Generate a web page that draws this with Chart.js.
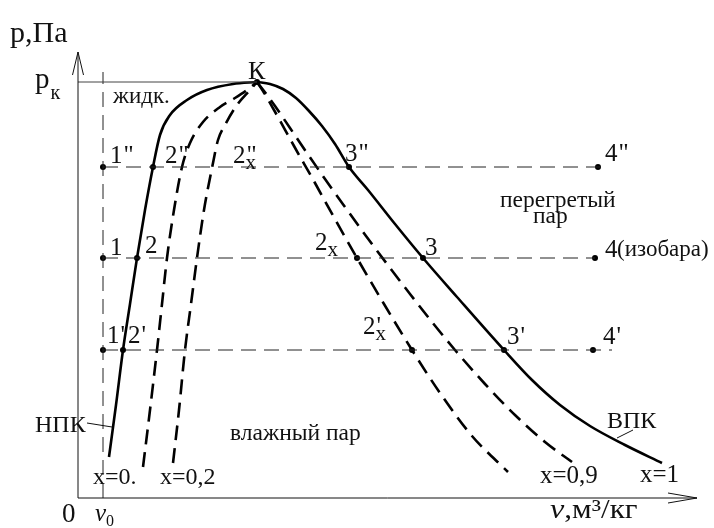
<!DOCTYPE html>
<html>
<head>
<meta charset="utf-8">
<script src="https://cdn.jsdelivr.net/npm/chart.js@4.4.1/dist/chart.umd.min.js"></script>
<style>
  html, body { margin: 0; padding: 0; background: #fff; }
  #wrap { width: 714px; height: 528px; }
</style>
</head>
<body>
<div id="wrap"><canvas id="pv" width="714" height="528"></canvas></div>
<script>
// Критическая точка, v0 и изобары
const vK = 1.79;
const pK = 4.16;
const v0 = 0.25;
const isobarP = [3.31, 2.40, 1.48];
const isobarEndV = [5.30, 5.17, 5.34];

// Нижняя пограничная кривая (x = 0)
const liquidV = [0.31, 0.38, 0.45, 0.52, 0.59, 0.67, 0.75, 0.82, 0.92, 1.09, 1.29, 1.55, 1.79];
const liquidP = [0.41, 0.93, 1.48, 1.94, 2.40, 2.88, 3.31, 3.63, 3.83, 3.98, 4.08, 4.14, 4.16];

// Линии постоянной степени сухости слева от К
const dry01V = [0.65, 0.72, 0.79, 0.84, 0.89, 0.96, 1.04, 1.12, 1.25, 1.42, 1.57, 1.69, 1.79];
const dry01P = [0.31, 0.88, 1.48, 1.94, 2.40, 2.88, 3.31, 3.55, 3.76, 3.91, 4.00, 4.08, 4.16];
const dry02V = [0.95, 1.01, 1.07, 1.13, 1.19, 1.26, 1.34, 1.40, 1.47, 1.59, 1.72, 1.79];
const dry02P = [0.35, 0.88, 1.48, 1.94, 2.40, 2.88, 3.30, 3.58, 3.73, 3.93, 4.08, 4.16];

// Линии постоянной степени сухости справа от К
const dry08V = [1.79, 1.85, 1.96, 2.16, 2.37, 2.58, 2.79, 3.06, 3.34, 3.62, 3.94, 4.30];
const dry08P = [4.16, 4.07, 3.88, 3.52, 3.15, 2.77, 2.40, 1.94, 1.48, 1.05, 0.62, 0.26];
const dry09V = [1.79, 1.86, 1.97, 2.12, 2.29, 2.47, 2.67, 2.88, 3.09, 3.32, 3.54, 3.77, 4.07, 4.37, 4.67, 4.94];
const dry09P = [4.16, 4.07, 3.92, 3.70, 3.45, 3.19, 2.91, 2.62, 2.34, 2.04, 1.76, 1.48, 1.14, 0.83, 0.56, 0.36];

// Верхняя пограничная кривая (x = 1)
const vaporV = [1.79, 1.92, 2.05, 2.18, 2.31, 2.44, 2.57, 2.71, 2.90, 3.17, 3.45, 3.79, 4.26, 4.54, 4.82, 5.12, 5.47, 5.84];
const vaporP = [4.16, 4.14, 4.09, 4.00, 3.87, 3.72, 3.54, 3.31, 3.08, 2.74, 2.40, 2.01, 1.48, 1.18, 0.93, 0.72, 0.53, 0.35];

// Точки процессов на изобарах
const stateNames = ['1"', '2"', '3"', '4"', '1', '2', '2x', '3', '4', "1'", "2'", "2'x", "3'", "4'", 'К'];
const stateV = [0.25, 0.75, 2.71, 5.20, 0.25, 0.59, 2.79, 3.45, 5.17, 0.25, 0.45, 3.34, 4.26, 5.15, 1.79];
const stateP = [3.31, 3.31, 3.31, 3.31, 2.40, 2.40, 2.40, 2.40, 2.40, 1.48, 1.48, 1.48, 1.48, 1.48, 4.16];

// сдвиг подписей точек, px
const stateLabelShift = [
  [7, -4], [12, -4], [-4, -6], [7, -6],
  [7, -3], [8, -5], [-42, -8], [2, -3], [10, -1],
  [4, -7], [5, -7], [-49, -16], [3, -6], [10, -6],
  [-9, -3],
];

const serif = "'Liberation Serif', 'DejaVu Serif', serif";

const toXY = (vs, ps) => vs.map((v, i) => ({ x: v, y: ps[i] }));

function curve(label, vs, ps, dashed) {
  return {
    label,
    data: toXY(vs, ps),
    showLine: true,
    fill: false,
    borderColor: '#000',
    borderWidth: 2.6,
    borderDash: dashed ? [15, 8] : [],
    pointRadius: 0,
    cubicInterpolationMode: 'monotone',
  };
}

function thinLine(label, pts, dashed, color) {
  return {
    label,
    data: pts,
    showLine: true,
    fill: false,
    borderColor: color,
    borderWidth: 1,
    borderDash: dashed ? [15, 8] : [],
    pointRadius: 0,
  };
}

const datasets = [
  thinLine('pк', [{ x: 0, y: pK }, { x: vK, y: pK }], false, '#444'),
  thinLine('v0', [{ x: v0, y: 0 }, { x: v0, y: 4.26 }], true, '#222'),
  ...isobarP.map((p, i) => thinLine('изобара ' + (i + 1), [{ x: v0, y: p }, { x: isobarEndV[i], y: p }], true, '#222')),
  curve('x=0', liquidV, liquidP, false),
  curve('x=0,1', dry01V, dry01P, true),
  curve('x=0,2', dry02V, dry02P, true),
  curve('x=0,8', dry08V, dry08P, true),
  curve('x=0,9', dry09V, dry09P, true),
  curve('x=1', vaporV, vaporP, false),
  {
    label: 'точки',
    data: toXY(stateV, stateP),
    showLine: false,
    pointRadius: 3,
    pointBackgroundColor: '#000',
    pointBorderWidth: 0,
  },
];

// подписи областей и кривых (v, p — в единицах осей)
const textItems = [
  { text: 'жидк.', v: 0.35, p: 3.95, size: 23 },
  { text: 'влажный пар', v: 1.52, p: 0.58, size: 23.5 },
  { text: 'перегретый', v: 4.22, p: 2.91, size: 23.5 },
  { text: 'пар', v: 4.55, p: 2.75, size: 23.5 },
  { text: '(изобара)', v: 5.39, p: 2.42, size: 23 },
  { text: 'НПК', v: -0.43, p: 0.66, size: 24 },
  { text: 'ВПК', v: 5.29, p: 0.70, size: 24 },
  { text: 'x=0.', v: 0.15, p: 0.14, size: 24 },
  { text: 'x=0,2', v: 0.82, p: 0.14, size: 24 },
  { text: 'x=0,9', v: 4.62, p: 0.15, size: 25 },
  { text: 'x=1', v: 5.62, p: 0.16, size: 25 },
  { text: '0', v: -0.16, p: -0.24, size: 27 },
  { text: 'p,Па', v: -0.68, p: 4.56, size: 30 },
];

const leaders = [
  [0.09, 0.75, 0.34, 0.71],
  [5.39, 0.60, 5.55, 0.68],
];

function drawIndexed(ctx, x, y, name, size) {
  const base = name[0];
  const primes = name.replace(/[^'"]/g, '');
  const sub = name.includes('x') ? 'x' : '';
  ctx.font = `${size}px ${serif}`;
  ctx.fillText(base, x, y);
  const cx = x + ctx.measureText(base).width;
  if (primes) ctx.fillText(primes, cx + 1, y);
  if (sub) {
    ctx.font = `${Math.round(size * 0.85)}px ${serif}`;
    ctx.fillText(sub, cx, y + 6);
  }
}

const schemeText = {
  id: 'schemeText',
  afterDatasetsDraw(chart) {
    const { ctx, scales: { x, y } } = chart;
    const px = v => x.getPixelForValue(v);
    const py = p => y.getPixelForValue(p);
    const ox = px(0), oy = py(0);
    ctx.save();

    // оси со стрелками
    ctx.strokeStyle = '#111';
    ctx.lineWidth = 1;
    ctx.beginPath();
    ctx.moveTo(ox, oy); ctx.lineTo(ox, py(4.46));
    ctx.moveTo(ox, oy); ctx.lineTo(px(6.19), oy);
    ctx.moveTo(ox - 5.5, py(4.23)); ctx.lineTo(ox, py(4.46)); ctx.lineTo(ox + 5.5, py(4.23));
    ctx.moveTo(px(5.90), oy - 5); ctx.lineTo(px(6.19), oy); ctx.lineTo(px(5.90), oy + 5);
    ctx.stroke();

    // выноски
    ctx.beginPath();
    leaders.forEach(([v1, p1, v2, p2]) => { ctx.moveTo(px(v1), py(p1)); ctx.lineTo(px(v2), py(p2)); });
    ctx.stroke();

    ctx.fillStyle = '#111';
    ctx.textBaseline = 'alphabetic';
    textItems.forEach(t => {
      ctx.font = `${t.size}px ${serif}`;
      ctx.fillText(t.text, px(t.v), py(t.p));
    });

    // p_к
    ctx.font = `29px ${serif}`;
    ctx.fillText('p', px(-0.43), py(4.10));
    const pw = ctx.measureText('p').width;
    ctx.font = `20px ${serif}`;
    ctx.fillText('к', px(-0.43) + pw + 1, py(3.99));

    // v0
    ctx.font = `italic 25px ${serif}`;
    ctx.fillText('v', px(0.17), py(-0.23));
    ctx.font = `16px ${serif}`;
    ctx.fillText('0', px(0.28), py(-0.28));

    // подпись оси абсцисс, шрифт чуть растянут по ширине
    ctx.save();
    ctx.translate(px(4.72), py(-0.20));
    ctx.scale(1.15, 1);
    ctx.font = `italic 28px ${serif}`;
    ctx.fillText('v', 0, 0);
    const w = ctx.measureText('v').width;
    ctx.font = `27px ${serif}`;
    ctx.fillText(',м³/кг', w, 0);
    ctx.restore();

    // подписи точек
    stateNames.forEach((name, i) => {
      const [dx, dy] = stateLabelShift[i];
      drawIndexed(ctx, px(stateV[i]) + dx, py(stateP[i]) + dy, name, i === 14 ? 26 : 25);
    });
    drawIndexed(ctx, px(1.55), py(3.31) - 4, '2"x', 25);

    ctx.restore();
  },
};

new Chart(document.getElementById('pv').getContext('2d'), {
  type: 'scatter',
  data: { datasets },
  plugins: [schemeText],
  options: {
    responsive: false,
    animation: false,
    devicePixelRatio: 1,
    layout: { padding: { left: 78, right: 17, top: 48, bottom: 30 } },
    scales: {
      x: { type: 'linear', min: 0, max: 6.19, display: false },
      y: { type: 'linear', min: 0, max: 4.5, display: false },
    },
    plugins: {
      legend: { display: false },
      tooltip: { enabled: false },
    },
  },
});
</script>
</body>
</html>
